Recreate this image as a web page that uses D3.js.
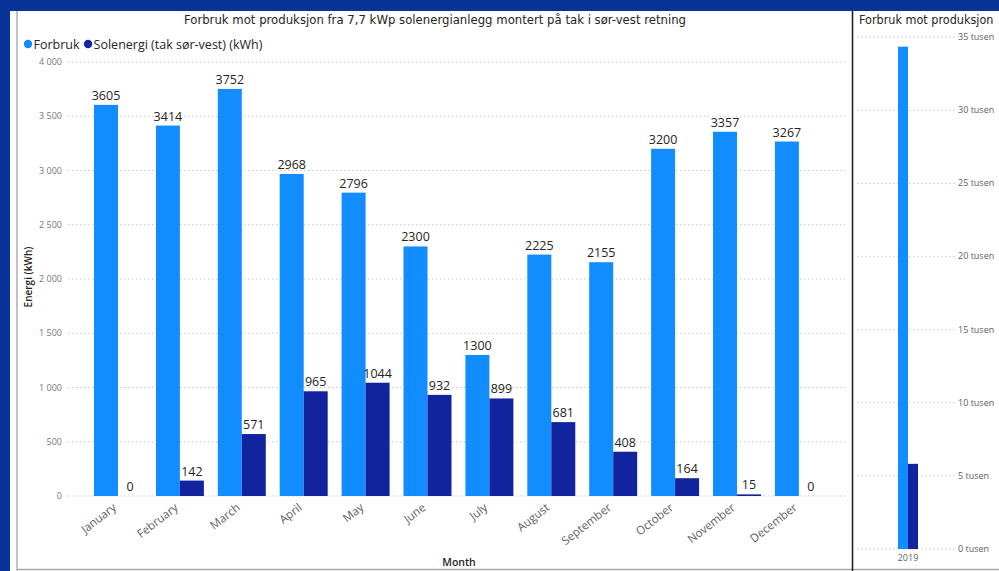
<!DOCTYPE html>
<html><head><meta charset="utf-8">
<script src="https://cdn.jsdelivr.net/npm/d3@7"></script>
<style>
html,body{margin:0;padding:0;background:#0a3399;}
svg{display:block;}
</style></head>
<body>
<svg id="chart" width="999" height="571"></svg>
<script>
const months = ["January","February","March","April","May","June","July","August","September","October","November","December"];
const forbruk = [3605,3414,3752,2968,2796,2300,1300,2225,2155,3200,3357,3267];
const solenergi = [0,142,571,965,1044,932,899,681,408,164,15,0];
const yTicks = [0,500,1000,1500,2000,2500,3000,3500,4000];
const years = ["2019"];
const yTicks2 = [0,5000,10000,15000,20000,25000,30000,35000];
const seriesNames = ["Forbruk","Solenergi (tak sør-vest) (kWh)"];
const colors = ["#118DFF","#12239E"];

const svg = d3.select("#chart");
const font = "'Segoe UI','Open Sans','Noto Sans',sans-serif";
const titleFont = "'DejaVu Sans Condensed','DejaVu Sans',sans-serif";

// background panels
svg.append("rect").attr("x",0).attr("y",0).attr("width",999).attr("height",571).attr("fill","#0a3399");
svg.append("rect").attr("x",10).attr("y",11).attr("width",989).attr("height",560).attr("fill","#fff");
svg.append("line").attr("x1",17).attr("x2",17).attr("y1",11).attr("y2",571).attr("stroke","#999").attr("stroke-width",1.2);
svg.append("line").attr("x1",17).attr("x2",999).attr("y1",569.5).attr("y2",569.5).attr("stroke","#aaa").attr("stroke-width",1.5);
svg.append("line").attr("x1",852.5).attr("x2",852.5).attr("y1",11).attr("y2",571).attr("stroke","#222").attr("stroke-width",1.6);

// ---- main chart ----
const y = d3.scaleLinear().domain([0,4000]).range([496,62]);
const x = d3.scaleBand().domain(months).range([87.2,829.7]).paddingInner(0.225).paddingOuter(0.11);
const xs = d3.scaleBand().domain(seriesNames).range([0,x.bandwidth()]);

svg.append("text").attr("x",435).attr("y",24).attr("text-anchor","middle")
  .attr("font-family",titleFont).attr("font-size",13).attr("fill","#252423")
  .text("Forbruk mot produksjon fra 7,7 kWp solenergianlegg montert på tak i sør-vest retning");

// legend
const leg = svg.append("g").attr("font-family",font).attr("font-size",12.5).attr("fill","#252423");
let lx = 28;
seriesNames.forEach((n,i)=>{
  leg.append("circle").attr("cx",lx).attr("cy",44).attr("r",4.2).attr("fill",colors[i]);
  const t = leg.append("text").attr("x",lx+5.5).attr("y",48.5).text(n);
  lx += 5.5 + t.node().getComputedTextLength() + 8.5;
});

// gridlines & y axis
const gy = svg.append("g");
yTicks.forEach(v=>{
  gy.append("line").attr("x1",68).attr("x2",845).attr("y1",y(v)).attr("y2",y(v))
    .attr("stroke","#c8c8c8").attr("stroke-dasharray","1.5,2.5").attr("stroke-width",1);
  gy.append("text").attr("x",62).attr("y",y(v)+3).attr("text-anchor","end")
    .attr("font-family",font).attr("font-size",9).attr("fill","#777")
    .text(d3.format(",")(v).replace(/,/g," "));
});
svg.append("text").attr("transform","translate(32,277) rotate(-90)").attr("text-anchor","middle")
  .attr("font-family",font).attr("font-size",10).attr("font-weight",600).attr("fill","#252423").text("Energi (kWh)");

// bars
const groups = svg.append("g").selectAll("g").data(months).join("g")
  .attr("transform",d=>`translate(${x(d)},0)`);
const vals = [forbruk, solenergi];
groups.each(function(m,i){
  const g = d3.select(this);
  seriesNames.forEach((s,k)=>{
    const v = vals[k][i];
    g.append("rect").attr("x",xs(s)).attr("width",xs.bandwidth()).attr("y",y(v)).attr("height",y(0)-y(v)).attr("fill",colors[k]);
    g.append("text").attr("x",xs(s)+xs.bandwidth()/2).attr("y",y(v)-5).attr("text-anchor","middle")
      .attr("font-family",font).attr("font-size",12.5).attr("fill","#252423").text(v);
  });
});

// x axis labels
const gx = svg.append("g");
months.forEach(m=>{
  gx.append("text").attr("text-anchor","end")
    .attr("transform",`translate(${x(m)+x.bandwidth()/2-1},${509}) rotate(-38)`)
    .attr("font-family",font).attr("font-size",11.5).attr("fill","#605e5c").text(m);
});
svg.append("text").attr("x",459).attr("y",566).attr("text-anchor","middle")
  .attr("font-family",font).attr("font-size",10.5).attr("font-weight",600).attr("fill","#252423").text("Month");

// ---- right panel ----
const y2 = d3.scaleLinear().domain([0,35000]).range([549,37]);
const rp = svg.append("g");
rp.append("text").attr("x",859).attr("y",24).attr("font-family",titleFont).attr("font-size",12.5).attr("fill","#252423")
  .text("Forbruk mot produksjon");
yTicks2.forEach(v=>{
  rp.append("line").attr("x1",857).attr("x2",955).attr("y1",y2(v)).attr("y2",y2(v))
    .attr("stroke","#c8c8c8").attr("stroke-dasharray","1.5,2.5");
  rp.append("text").attr("x",958).attr("y",y2(v)+3).attr("font-family",font).attr("font-size",9).attr("fill","#605e5c")
    .text((v/1000)+" tusen");
});
const totals = [d3.sum(forbruk), d3.sum(solenergi)];
const x2 = d3.scaleBand().domain(seriesNames).range([898,918]);
totals.forEach((t,k)=>{
  rp.append("rect").attr("x",x2(seriesNames[k])).attr("width",x2.bandwidth()).attr("y",y2(t)).attr("height",y2(0)-y2(t)).attr("fill",colors[k]);
});
rp.append("text").attr("x",908).attr("y",561).attr("text-anchor","middle").attr("font-family",font).attr("font-size",9).attr("fill","#605e5c").text(years[0]);
</script>
</body></html>
